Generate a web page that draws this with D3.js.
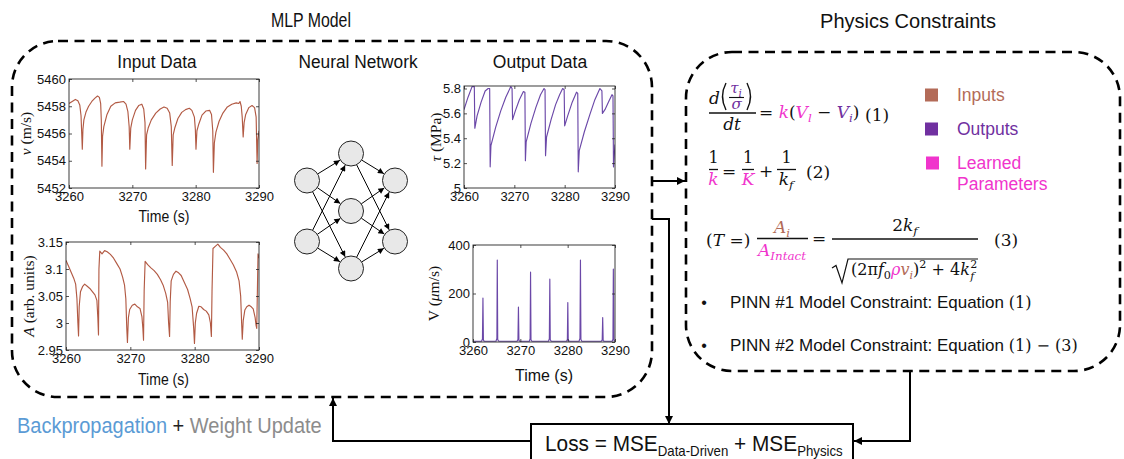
<!DOCTYPE html>
<html>
<head>
<meta charset="utf-8">
<script src="https://cdn.jsdelivr.net/npm/d3@7"></script>
<style>
  body { margin: 0; background: #fff; }
  svg { display: block; }
</style>
</head>
<body>
<svg id="fig" width="1124" height="459"></svg>
<script>
// ---------- tick values ----------
const timeTicks = [3260, 3270, 3280, 3290];
const velocityTicks = [5452, 5454, 5456, 5458, 5460];
const amplitudeTicks = [2.95, 3, 3.05, 3.1, 3.15];
const amplitudeLabels = ["2.95", "3", "3.05", "3.1", "3.15"];
const stressTicks = [5, 5.2, 5.4, 5.6, 5.8];
const stressLabels = ["5", "5.2", "5.4", "5.6", "5.8"];
const slipTicks = [0, 200, 400];

// ---------- input series: wave velocity v (m/s) ----------
const velocitySeries = [
  [3260.0,5458.2],[3260.5,5458.35],[3261.0,5458.5],[3261.4,5458.4],[3261.7,5458.1],[3261.9,5457.3],
  [3262.05,5455.5],[3262.1,5454.85],[3262.2,5456.3],[3262.35,5457.0],[3262.7,5457.6],[3263.1,5458.0],
  [3263.6,5458.35],[3264.1,5458.6],[3264.5,5458.75],[3264.8,5458.65],[3265.0,5458.2],[3265.1,5457.0],
  [3265.2,5453.6],[3265.3,5455.8],[3265.5,5456.5],[3266.0,5457.4],[3266.6,5458.0],[3267.3,5458.25],
  [3268.0,5458.3],[3268.6,5458.35],[3269.0,5458.15],[3269.3,5457.6],[3269.5,5456.5],[3269.6,5454.85],
  [3269.75,5456.4],[3270.0,5457.0],[3270.5,5457.7],[3271.0,5458.05],[3271.5,5458.15],[3271.8,5457.8],
  [3272.0,5456.8],[3272.1,5453.4],[3272.25,5455.9],[3272.5,5456.4],[3273.0,5457.0],[3273.7,5457.5],
  [3274.4,5457.8],[3275.0,5457.95],[3275.5,5457.85],[3275.9,5457.5],[3276.15,5456.5],[3276.3,5453.65],
  [3276.45,5455.9],[3276.7,5456.4],[3277.2,5457.1],[3277.8,5457.55],[3278.4,5457.75],[3279.0,5457.85],
  [3279.4,5457.7],[3279.8,5457.2],[3279.95,5456.3],[3280.05,5454.85],[3280.2,5456.2],[3280.5,5456.7],
  [3281.0,5457.35],[3281.6,5457.65],[3282.2,5457.7],[3282.5,5457.4],[3282.7,5456.2],[3282.8,5453.15],
  [3282.95,5455.3],[3283.2,5456.1],[3283.7,5456.9],[3284.3,5457.5],[3285.0,5457.95],[3285.7,5458.15],
  [3286.4,5458.25],[3286.8,5458.2],[3287.0,5458.35],[3287.2,5458.0],[3287.35,5457.2],[3287.5,5455.75],
  [3287.65,5456.8],[3287.9,5457.4],[3288.4,5457.9],[3288.9,5458.05],[3289.3,5457.9],[3289.55,5457.2],
  [3289.7,5453.8],[3289.8,5455.5],[3290.0,5456.2]
];

// ---------- input series: transmitted amplitude A (arb. units) ----------
const amplitudeSeries = [
  [3260.0,3.116],[3260.4,3.105],[3260.8,3.094],[3261.2,3.083],[3261.5,3.072],[3261.7,3.045],
  [3261.85,3.0],[3261.95,2.976],[3262.05,3.03],[3262.25,3.058],[3262.6,3.068],[3262.9,3.072],
  [3263.3,3.068],[3263.7,3.064],[3264.1,3.058],[3264.5,3.052],[3264.8,3.042],[3264.95,3.01],
  [3265.05,2.978],[3265.12,3.1],[3265.25,3.133],[3265.6,3.128],[3266.0,3.134],[3266.4,3.132],
  [3266.9,3.127],[3267.4,3.12],[3267.9,3.11],[3268.4,3.1],[3268.8,3.085],[3269.1,3.07],
  [3269.3,3.045],[3269.45,2.99],[3269.55,2.964],[3269.7,3.01],[3269.9,3.025],[3270.3,3.033],
  [3270.7,3.035],[3271.1,3.03],[3271.5,3.027],[3271.8,3.012],[3271.95,2.99],[3272.05,2.968],
  [3272.15,3.06],[3272.3,3.114],[3272.7,3.108],[3273.2,3.102],[3273.7,3.097],[3274.2,3.09],
  [3274.7,3.08],[3275.1,3.07],[3275.5,3.055],[3275.8,3.038],[3275.95,3.0],[3276.1,2.975],
  [3276.2,3.04],[3276.35,3.078],[3276.7,3.09],[3277.1,3.096],[3277.5,3.093],[3277.9,3.088],
  [3278.4,3.075],[3278.9,3.062],[3279.3,3.045],[3279.6,3.03],[3279.85,2.99],[3279.97,2.962],
  [3280.1,3.0],[3280.3,3.018],[3280.65,3.031],[3281.0,3.03],[3281.4,3.025],[3281.8,3.022],
  [3282.2,3.015],[3282.45,3.0],[3282.6,2.975],[3282.7,3.06],[3282.85,3.138],[3283.2,3.142],
  [3283.6,3.146],[3284.0,3.14],[3284.5,3.135],[3285.0,3.128],[3285.5,3.118],[3286.0,3.108],
  [3286.5,3.095],[3286.9,3.078],[3287.15,3.05],[3287.3,3.0],[3287.4,2.97],[3287.55,3.005],
  [3287.8,3.024],[3288.1,3.03],[3288.45,3.033],[3288.8,3.03],[3289.1,3.026],[3289.4,3.01],
  [3289.55,2.995],[3289.65,2.99],[3289.75,3.06],[3289.85,3.128],[3290.0,3.12]
];

// ---------- output series: shear stress tau (MPa) ----------
const stressSeries = [
  [3260.0,5.63],[3260.8,5.73],[3261.6,5.815],[3262.05,5.815],[3262.15,5.48],[3262.6,5.58],
  [3263.4,5.69],[3264.2,5.78],[3264.8,5.80],[3265.1,5.80],[3265.2,5.17],[3265.35,5.34],
  [3266.3,5.49],[3267.3,5.62],[3268.3,5.73],[3269.3,5.815],[3269.55,5.80],[3269.65,5.55],
  [3270.2,5.62],[3271.0,5.71],[3271.8,5.775],[3272.1,5.77],[3272.2,5.22],[3272.35,5.37],
  [3273.3,5.52],[3274.3,5.65],[3275.2,5.75],[3275.9,5.80],[3276.1,5.79],[3276.2,5.26],
  [3276.4,5.41],[3277.3,5.55],[3278.2,5.67],[3279.0,5.75],[3279.6,5.80],[3279.9,5.79],
  [3280.0,5.50],[3280.6,5.58],[3281.5,5.69],[3282.35,5.77],[3282.6,5.76],[3282.7,5.13],
  [3282.9,5.30],[3283.9,5.45],[3285.0,5.59],[3286.0,5.71],[3287.0,5.80],[3287.4,5.78],
  [3287.5,5.60],[3288.0,5.63],[3288.8,5.70],[3289.4,5.75],[3289.6,5.74],[3289.7,5.17],
  [3290.0,5.35]
];

// ---------- output series: slip rate V (um/s) ----------
const slipSeries = [
  [3260,3],[3261.8,3],[3262.0,12],[3262.1,181],[3262.2,8],[3262.4,3],
  [3264.85,3],[3265.05,15],[3265.13,338],[3265.22,10],[3265.45,3],
  [3269.3,3],[3269.5,10],[3269.6,144],[3269.7,7],[3269.9,3],
  [3271.9,3],[3272.07,14],[3272.16,288],[3272.25,9],[3272.45,3],
  [3275.95,3],[3276.13,14],[3276.23,259],[3276.32,9],[3276.55,3],
  [3279.75,3],[3279.94,10],[3280.03,163],[3280.12,7],[3280.35,3],
  [3282.4,3],[3282.6,15],[3282.7,338],[3282.8,10],[3283.0,3],
  [3287.1,3],[3287.3,9],[3287.4,101],[3287.5,6],[3287.7,3],
  [3289.4,3],[3289.57,12],[3289.65,301],[3289.75,8],[3290,3]
];

// network layer sizes: inputs, hidden, outputs
const layerSizes = [2, 3, 2];

// legend entries
const legendItems = ["Inputs", "Outputs", "Learned|Parameters"];

// ---------- styling ----------
const INK = "#262626";
const SANS = "'Liberation Sans', Arial, Helvetica, sans-serif";
const SERIF = "'DejaVu Serif', 'Liberation Serif', serif";
const TEX = "'Liberation Serif', 'Times New Roman', serif";
const C_IN = "#b36b58", C_OUT = "#7030a0", C_PAR = "#f034cc";
const LINE_IN = "#b25a44", LINE_OUT = "#6b48a8";

const svg = d3.select("#fig");
const defs = svg.append("defs");

function marker(id, w, h) {
  defs.append("marker").attr("id", id)
    .attr("viewBox", "0 0 10 10").attr("refX", 10).attr("refY", 5)
    .attr("markerWidth", w).attr("markerHeight", h)
    .attr("markerUnits", "userSpaceOnUse").attr("orient", "auto")
    .append("path").attr("d", "M0,0 L10,5 L0,10 z").attr("fill", "#000");
}
marker("headSmall", 8, 6);
marker("headBig", 10, 8);

// squeeze a text horizontally to a target width around its anchor
function squeeze(sel, width) {
  const b = sel.node().getBBox();
  const anchor = sel.attr("text-anchor") === "middle" ? b.x + b.width / 2 : b.x;
  const s = width / b.width;
  sel.attr("transform", `translate(${anchor},0) scale(${s},1) translate(${-anchor},0)`);
}

function label(x, y, str, size, opts = {}) {
  const t = svg.append("text").attr("x", x).attr("y", y)
    .attr("font-family", opts.family || SANS).attr("font-size", size)
    .attr("fill", opts.fill || "#111").text(str);
  if (opts.anchor) t.attr("text-anchor", opts.anchor);
  if (opts.width) squeeze(t, opts.width);
  return t;
}

// ---------- dashed group boxes ----------
svg.append("rect").attr("x", 12).attr("y", 41).attr("width", 640).attr("height", 356)
  .attr("rx", 46).attr("fill", "none").attr("stroke", "#000")
  .attr("stroke-width", 2.6).attr("stroke-dasharray", "10,6.5");
svg.append("rect").attr("x", 686).attr("y", 52).attr("width", 434).attr("height", 319)
  .attr("rx", 46).attr("fill", "none").attr("stroke", "#000")
  .attr("stroke-width", 2.6).attr("stroke-dasharray", "10,6.5");

// ---------- headings ----------
label(311, 27, "MLP Model", 21, { anchor: "middle", width: 80 });
label(908, 28, "Physics Constraints", 20, { anchor: "middle", width: 176 });
label(157, 68, "Input Data", 18.5, { anchor: "middle", width: 80 });
label(358, 68, "Neural Network", 18.5, { anchor: "middle", width: 120 });
label(540, 68, "Output Data", 18.5, { anchor: "middle", width: 95 });

// ---------- chart panels ----------
let clipCount = 0;
function panel(cfg) {
  const g = svg.append("g");
  const x = d3.scaleLinear().domain([timeTicks[0], timeTicks[timeTicks.length - 1]]).range([cfg.x0, cfg.x1]);
  const y = d3.scaleLinear().domain(cfg.yDomain).range([cfg.y1, cfg.y0]);
  const fmt = (ticks, labels) => d => labels ? labels[ticks.indexOf(d)] : String(d);

  const id = "clip" + (clipCount++);
  defs.append("clipPath").attr("id", id).append("rect")
    .attr("x", cfg.x0).attr("y", cfg.y0).attr("width", cfg.x1 - cfg.x0).attr("height", cfg.y1 - cfg.y0);

  g.append("path").datum(cfg.data)
    .attr("clip-path", `url(#${id})`)
    .attr("d", d3.line().x(d => x(d[0])).y(d => y(d[1])))
    .attr("fill", "none").attr("stroke", cfg.color)
    .attr("stroke-width", 1.15).attr("stroke-linejoin", "round");

  const axes = [
    g.append("g").attr("transform", `translate(0,${cfg.y1})`)
      .call(d3.axisBottom(x).tickValues(timeTicks).tickSize(-3).tickSizeOuter(0).tickPadding(4)
        .tickFormat(d => String(d))),
    g.append("g").attr("transform", `translate(0,${cfg.y0})`)
      .call(d3.axisTop(x).tickValues(timeTicks).tickSize(-3).tickSizeOuter(0).tickFormat("")),
    g.append("g").attr("transform", `translate(${cfg.x0},0)`)
      .call(d3.axisLeft(y).tickValues(cfg.yTicks).tickSize(-3).tickSizeOuter(0).tickPadding(3)
        .tickFormat(fmt(cfg.yTicks, cfg.yLabels))),
    g.append("g").attr("transform", `translate(${cfg.x1},0)`)
      .call(d3.axisRight(y).tickValues(cfg.yTicks).tickSize(-3).tickSizeOuter(0).tickFormat(""))
  ];
  axes.forEach(a => {
    a.select(".domain").remove();
    a.selectAll(".tick line").attr("stroke", INK).attr("stroke-width", 0.8);
    a.selectAll(".tick text").attr("font-family", SANS).attr("font-size", 13).attr("fill", "#111");
  });

  g.append("rect").attr("x", cfg.x0).attr("y", cfg.y0)
    .attr("width", cfg.x1 - cfg.x0).attr("height", cfg.y1 - cfg.y0)
    .attr("fill", "none").attr("stroke", INK).attr("stroke-width", 0.9);

  // rotated y-axis label
  const yl = g.append("text")
    .attr("transform", `translate(${cfg.ylx},${(cfg.y0 + cfg.y1) / 2}) rotate(-90)`)
    .attr("text-anchor", "middle").attr("dominant-baseline", "central")
    .attr("font-family", TEX).attr("font-size", 15.5).attr("fill", "#111");
  cfg.ylabel.forEach(p => {
    const ts = yl.append("tspan").text(p.s);
    if (p.i) ts.attr("font-style", "italic");
  });

  if (cfg.xlabel) {
    label((cfg.x0 + cfg.x1) / 2 + (cfg.xlDx || 0), cfg.xly, "Time (s)", 17,
      { anchor: "middle", width: cfg.xlw });
  }
}

panel({ x0: 69, x1: 259, y0: 79, y1: 188, yDomain: [5452, 5460], yTicks: velocityTicks,
  data: velocitySeries, color: LINE_IN, ylx: 25,
  ylabel: [{ s: "v", i: 1 }, { s: " (m/s)" }], xlabel: true, xly: 222, xlw: 51, xlDx: 0 });
panel({ x0: 66, x1: 259, y0: 242, y1: 350, yDomain: [2.95, 3.15], yTicks: amplitudeTicks,
  yLabels: amplitudeLabels, data: amplitudeSeries, color: LINE_IN, ylx: 28,
  ylabel: [{ s: "A", i: 1 }, { s: " (arb. units)" }], xlabel: true, xly: 385, xlw: 51, xlDx: 1 });
panel({ x0: 464, x1: 615, y0: 86, y1: 188, yDomain: [5, 5.82], yTicks: stressTicks,
  yLabels: stressLabels, data: stressSeries, color: LINE_OUT, ylx: 435,
  ylabel: [{ s: "τ", i: 1 }, { s: " (MPa)" }], xlabel: false });
panel({ x0: 473, x1: 615, y0: 245, y1: 342, yDomain: [0, 400], yTicks: slipTicks,
  data: slipSeries, color: LINE_OUT, ylx: 433,
  ylabel: [{ s: "V (" }, { s: "μ", i: 1 }, { s: "m/s)" }], xlabel: true, xly: 381, xlw: 58, xlDx: 0 });

// ---------- neural network ----------
const layerX = d3.scalePoint().domain(d3.range(layerSizes.length)).range([307, 395]);
const nodeR = 12.5;
const nodes = layerSizes.map((n, li) => d3.range(n).map(i => {
  const gap = n === 3 ? 57.5 : 61;
  return { x: layerX(li), y: 211 + (i - (n - 1) / 2) * gap };
}));
const net = svg.append("g");
for (let li = 0; li < nodes.length - 1; li++) {
  nodes[li].forEach(a => nodes[li + 1].forEach(b => {
    const dx = b.x - a.x, dy = b.y - a.y, L = Math.hypot(dx, dy);
    const ux = dx / L, uy = dy / L;
    net.append("line")
      .attr("x1", a.x + ux * nodeR).attr("y1", a.y + uy * nodeR)
      .attr("x2", b.x - ux * (nodeR + 0.5)).attr("y2", b.y - uy * (nodeR + 0.5))
      .attr("stroke", "#000").attr("stroke-width", 1)
      .attr("marker-end", "url(#headSmall)");
  }));
}
nodes.flat().forEach(n => {
  net.append("circle").attr("cx", n.x).attr("cy", n.y).attr("r", nodeR)
    .attr("fill", "#e8e8e8").attr("stroke", "#222").attr("stroke-width", 1);
});

// ---------- flow arrows ----------
function arrow(points, head) {
  svg.append("path").attr("d", d3.line()(points))
    .attr("fill", "none").attr("stroke", "#000").attr("stroke-width", 2)
    .attr("marker-end", `url(#${head})`);
}
arrow([[652, 181], [685, 181]], "headBig");
arrow([[652, 219], [669, 219], [669, 424]], "headBig");
arrow([[531, 441], [333, 441], [333, 398]], "headBig");
arrow([[910, 371], [910, 441], [854, 441]], "headBig");

// ---------- loss box ----------
svg.append("rect").attr("x", 531).attr("y", 424).attr("width", 322).attr("height", 40)
  .attr("fill", "#fff").attr("stroke", "#000").attr("stroke-width", 2);
const loss = svg.append("text").attr("x", 545).attr("y", 451)
  .attr("font-family", SANS).attr("font-size", 22).attr("fill", "#111");
loss.append("tspan").text("Loss = MSE");
loss.append("tspan").text("Data-Driven").attr("font-size", 14).attr("dy", 5);
loss.append("tspan").text(" + MSE").attr("dy", -5);
loss.append("tspan").text("Physics").attr("font-size", 14).attr("dy", 5);
squeeze(loss, 298);

const bp = svg.append("text").attr("x", 17).attr("y", 433)
  .attr("font-family", SANS).attr("font-size", 21.5);
bp.append("tspan").text("Backpropagation").attr("fill", "#5b9bd5");
bp.append("tspan").text(" + ").attr("fill", "#222");
bp.append("tspan").text("Weight Update").attr("fill", "#8c8c8c");
squeeze(bp, 305);

// ---------- equations ----------
function eq(x, y, runs, opts = {}) {
  const size = opts.size || 16;
  const t = svg.append("text").attr("x", x).attr("y", y)
    .attr("font-family", SERIF).attr("font-size", size).attr("fill", "#111");
  if (opts.anchor) t.attr("text-anchor", opts.anchor);
  let shift = 0;
  runs.forEach(r => {
    const ts = t.append("tspan").text(r.s);
    if (r.c) ts.attr("fill", r.c);
    if (r.i) ts.attr("font-style", "italic");
    const want = r.sub ? 4 : r.sup ? -7 : 0;
    if (want !== shift) { ts.attr("dy", want - shift); shift = want; }
    if (r.sub || r.sup) ts.attr("font-size", size * 0.7);
  });
  return t;
}
function bar(x1, x2, y, w = 1.3) {
  svg.append("line").attr("x1", x1).attr("x2", x2).attr("y1", y).attr("y2", y)
    .attr("stroke", "#111").attr("stroke-width", w);
}
function paren(x, y0, y1, dir) {
  const bulge = 7 * dir;
  svg.append("path")
    .attr("d", `M${x},${y0} Q${x - bulge},${(y0 + y1) / 2} ${x},${y1}`)
    .attr("fill", "none").attr("stroke", "#111").attr("stroke-width", 1.4);
}

// (1)  d(tau_i / sigma)/dt = k (V_l - V_i)
eq(709, 104, [{ s: "d", i: 1 }], { size: 17 });
paren(726, 83, 110, 1);
eq(736, 93, [{ s: "τ", i: 1, c: C_OUT }, { s: "i", i: 1, c: C_OUT, sub: 1 }], { size: 15, anchor: "middle" });
bar(729, 744, 97.5, 1.1);
eq(736.5, 108.5, [{ s: "σ", i: 1, c: C_OUT }], { size: 15, anchor: "middle" });
paren(747, 83, 110, -1);
bar(709, 756, 113);
eq(732, 130, [{ s: "dt", i: 1 }], { size: 17, anchor: "middle" });
eq(759, 118, [{ s: "= " }, { s: "k", i: 1, c: C_PAR }, { s: "(" }, { s: "V", i: 1, c: C_PAR },
  { s: "l", i: 1, c: C_PAR, sub: 1 }, { s: " − " }, { s: "V", i: 1, c: C_OUT },
  { s: "i", i: 1, c: C_OUT, sub: 1 }, { s: ")" }], { size: 17 });
eq(865, 121, [{ s: "(1)" }], { size: 17 });

// (2)  1/k = 1/K + 1/k_f
eq(713.5, 163, [{ s: "1" }], { anchor: "middle" });
bar(709, 718, 169.5);
eq(713.5, 185, [{ s: "k", i: 1, c: C_PAR }], { anchor: "middle", size: 17 });
eq(722, 177, [{ s: "=" }], { size: 17 });
eq(748, 163, [{ s: "1" }], { anchor: "middle" });
bar(742, 754, 169.5);
eq(748, 185, [{ s: "K", i: 1, c: C_PAR }], { anchor: "middle", size: 17 });
eq(759, 177, [{ s: "+" }], { size: 17 });
eq(786.5, 163, [{ s: "1" }], { anchor: "middle" });
bar(777, 796, 169.5);
eq(786, 185, [{ s: "k", i: 1 }, { s: "f", i: 1, sub: 1 }], { anchor: "middle", size: 17 });
eq(806, 178, [{ s: "(2)" }], { size: 17 });

// (3)  (T =) A_i / A_Intact = 2k_f / sqrt((2 pi f0 rho v_i)^2 + 4 k_f^2)
eq(706, 246, [{ s: "(" }, { s: "T", i: 1 }, { s: " =)" }], { size: 17 });
eq(782, 233, [{ s: "A", i: 1, c: C_IN }, { s: "i", i: 1, c: C_IN, sub: 1 }], { anchor: "middle", size: 17 });
bar(757, 808, 238.5);
eq(782, 256, [{ s: "A", i: 1, c: C_PAR }, { s: "Intact", i: 1, c: C_PAR, sub: 1 }], { anchor: "middle", size: 17 });
eq(812, 244, [{ s: "=" }], { size: 17 });
bar(832, 978, 239);
eq(905, 231, [{ s: "2" }, { s: "k", i: 1 }, { s: "f", i: 1, sub: 1 }], { anchor: "middle", size: 17 });
svg.append("path").attr("d", "M832,268 L836,265.5 L842,283 L848,259 L978,259")
  .attr("fill", "none").attr("stroke", "#111").attr("stroke-width", 1.2);
const rad = eq(851, 275, [{ s: "(2π" }, { s: "f", i: 1 }, { s: "0", sub: 1 }, { s: "ρ", i: 1, c: C_PAR },
  { s: "v", i: 1, c: C_IN }, { s: "i", i: 1, c: C_IN, sub: 1 }, { s: ")" }, { s: "2", sup: 1 },
  { s: " + 4" }, { s: "k", i: 1 }], { size: 16 });
const radEnd = 851 + rad.node().getComputedTextLength();
eq(radEnd + 0.5, 268, [{ s: "2" }], { size: 11 });
eq(radEnd + 0.5, 280, [{ s: "f", i: 1 }], { size: 11 });
eq(994, 246, [{ s: "(3)" }], { size: 17 });

// ---------- model constraint bullets ----------
function bullet(y, tail) {
  label(704, y, "•", 16, { anchor: "middle" });
  const t = svg.append("text").attr("x", 730).attr("y", y)
    .attr("font-family", SANS).attr("font-size", 17).attr("fill", "#111");
  t.append("tspan").text("PINN #" + tail.n + " Model Constraint: Equation ");
  t.append("tspan").text(tail.eqs).attr("font-family", SERIF).attr("font-size", 16);
}
bullet(308, { n: 1, eqs: "(1)" });
bullet(351, { n: 2, eqs: "(1) − (3)" });

// ---------- colour legend ----------
const legendColors = [C_IN, C_OUT, C_PAR];
const legendY = d3.scalePoint().domain(legendItems).range([95, 163]);
legendItems.forEach((name, i) => {
  const cy = legendY(name);
  svg.append("rect").attr("x", 925 + (i === 2 ? 1 : 0)).attr("y", cy - 6.5)
    .attr("width", 13).attr("height", 13).attr("fill", legendColors[i]);
  name.split("|").forEach((line, k) => {
    label(957, cy + 6 + k * 21, line, 17.5, { fill: legendColors[i] });
  });
});
</script>
</body>
</html>
